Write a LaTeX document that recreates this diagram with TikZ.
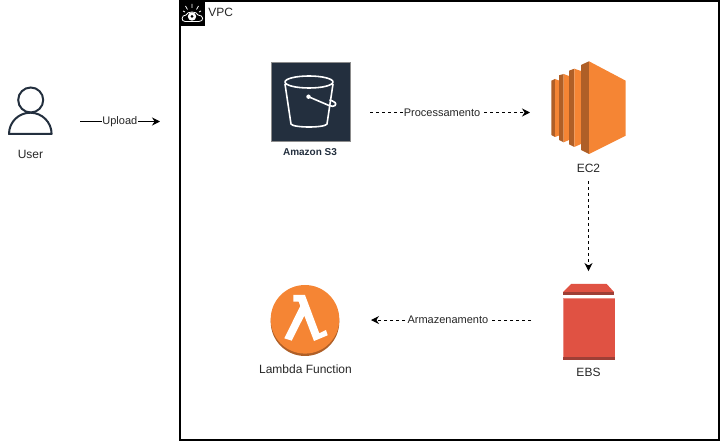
\documentclass[tikz,border=0pt]{standalone}
\usepackage{fontspec}
\setmainfont{Liberation Sans}
\usetikzlibrary{arrows.meta,positioning}
\definecolor{awsink}{HTML}{232F3E}
\definecolor{awsorange}{HTML}{F58534}
\definecolor{awsbrown}{HTML}{AF5F27}
\definecolor{awsred}{HTML}{E05243}
\definecolor{awsdarkred}{HTML}{9E3F36}
\definecolor{awspink}{HTML}{EA8D84}

\begin{document}
\begin{tikzpicture}[
    x=0.75pt, y=-0.75pt,
    icon/.style={rectangle, inner sep=0pt, outer sep=0pt},
    lbl/.style={font=\fontsize{9}{11}\selectfont, text=black!85, inner sep=1pt},
    edgelbl/.style={lbl, font=\fontsize{8.25}{10}\selectfont, fill=white, inner sep=0.5pt},
    arrow/.style={-{Stealth[length=6pt,width=6pt]}, line width=0.75pt},
    flow/.style={arrow, dash pattern=on 2.25pt off 2.25pt},
    whiteline/.style={draw=white, line width=1.2pt, line join=round},
]
\useasboundingbox (0,0) rectangle (722,442);

\node[icon, draw=black, line width=1.5pt, minimum width=404.25pt, minimum height=329.25pt] (vpc) at (449.5,220.5) {};
\node[icon, minimum width=33pt, minimum height=60pt] (user) at (30,121.5) {};
\node[icon, minimum width=59.25pt, minimum height=75pt] (s3) at (310.5,112.5) {};
\node[icon, minimum width=56.25pt, minimum height=94.5pt, right=150.75pt of s3] (ec2) {};
\node[icon, minimum width=39.75pt, minimum height=54pt, below=81.4pt of ec2] (ebs) {};
\node[icon, minimum width=52.5pt, minimum height=54pt, left=166.5pt of ebs] (lambda) {};

% vpc badge
\fill[black] (180,0) rectangle (205,26);
\draw[white, line width=0.6pt] (185,21.5) .. controls (181,21.5) and (181,15) .. (186,15)
    .. controls (187,11) and (197,11) .. (198,15) .. controls (204,15) and (204,21.5) .. (199,21.5) -- cycle;
\fill[white] (192,16.5) circle (4.2);
\fill[black] (192,16.5) circle (1.5);
\draw[white, line width=0.6pt] (192,4) -- (192,8) (185.5,6) -- (187.5,9.5) (198.5,6) -- (196.5,9.5) (183,11) -- (185,12) (201,11) -- (199,12);
\node[lbl, anchor=west, inner sep=0pt] (vpc_lbl) at (208,12) {VPC};

% user
\draw[awsink, line width=1.5pt] (30.7,100) circle (12.5);
\draw[awsink, line width=1.5pt, line join=round] (9,134) arc[start angle=180, end angle=360, radius=21.3] -- cycle;
\node[lbl] (user_lbl) at (30.5,154.5) {User};

% s3
\fill[awsink] (271,62) rectangle (350,141);
\draw[black!45, line width=0.4pt] (271,62) rectangle (350,141);
\draw[whiteline] (309,82) ellipse [x radius=24, y radius=6];
\draw[whiteline] (285,84) -- (291,124) .. controls (293,128) and (325,128) .. (327,124) -- (333,84);
\fill[white] (308.5,96.7) circle (2.2);
\draw[whiteline] (308.5,96.7) -- (329,105.5) .. controls (335,108) and (337,104) .. (335,102.5) .. controls (333.5,101) and (331,100.5) .. (329.5,100);
\node[lbl, font=\fontsize{7.5}{9}\selectfont\bfseries, text=awsink] (s3_lbl) at (310,152) {Amazon S3};

% ec2
\fill[awsbrown] (551.3,80.7) -- (555,79) -- (555,137) -- (551.3,135) -- cycle;
\fill[awsorange] (555,79) -- (559,80.5) -- (559,135.5) -- (555,137) -- cycle;
\fill[awsbrown] (559,75.3) -- (563.7,74) -- (563.7,142.3) -- (559,140) -- cycle;
\fill[awsorange] (563.7,74) -- (569,76) -- (569,140) -- (563.7,142.3) -- cycle;
\fill[awsbrown] (569,70.7) -- (574.3,68.7) -- (574.3,147) -- (569,144.3) -- cycle;
\fill[awsorange] (574.3,68.7) -- (581,71) -- (581,144) -- (574.3,147) -- cycle;
\fill[awsbrown] (581,65) -- (589,61.3) -- (589,154) -- (581,150) -- cycle;
\fill[awsorange] (589,61.3) -- (625.7,80.7) -- (625.7,135.7) -- (589,154) -- cycle;
\node[lbl] (ec2_lbl) at (588.5,168) {EC2};

% ebs
\fill[awsred] (571,284) -- (606.7,284) -- (614,292) -- (563,292) -- cycle;
\fill[awsdarkred] (563,292) rectangle (614,295);
\fill[awsred] (562.5,298) rectangle (615,360);
\fill[awspink] (562.5,298) rectangle (564,360);
\fill[awspink] (562.5,298) rectangle (615,298.8);
\fill[awsdarkred] (562.5,357) rectangle (615,360);
\node[lbl] (ebs_lbl) at (588.5,372) {EBS};

% lambda
\fill[awsbrown] (305,321.7) circle (34.3);
\fill[awsorange] (305,319.3) circle (34.3);
\fill[white] (293.3,295) -- (293.3,301.7) -- (298.7,301.7) -- (300.3,306) -- (284.3,338.3) -- (291.7,340.7)
    -- (304.3,315.7) -- (314,341) -- (327.7,335.3) -- (326,330) -- (319.3,333.3) -- (305,295) -- cycle;
\node[lbl] (lambda_lbl) at (305.5,369) {Lambda Function};

\draw[arrow, shorten <=21pt, shorten >=15pt] (user) -- node[edgelbl, pos=.53]{Upload} (user -| vpc.west);
\draw[flow, shorten <=15pt, shorten >=15.75pt] (s3) -- node[edgelbl, pos=.458]{Processamento} (ec2);
\draw[flow, shorten <=4.5pt, shorten >=9.75pt] (ec2) -- (ebs);
\draw[flow, shorten <=23.25pt, shorten >=23.25pt] (ebs) -- node[edgelbl, pos=.514]{Armazenamento} (lambda);
\end{tikzpicture}
\end{document}
